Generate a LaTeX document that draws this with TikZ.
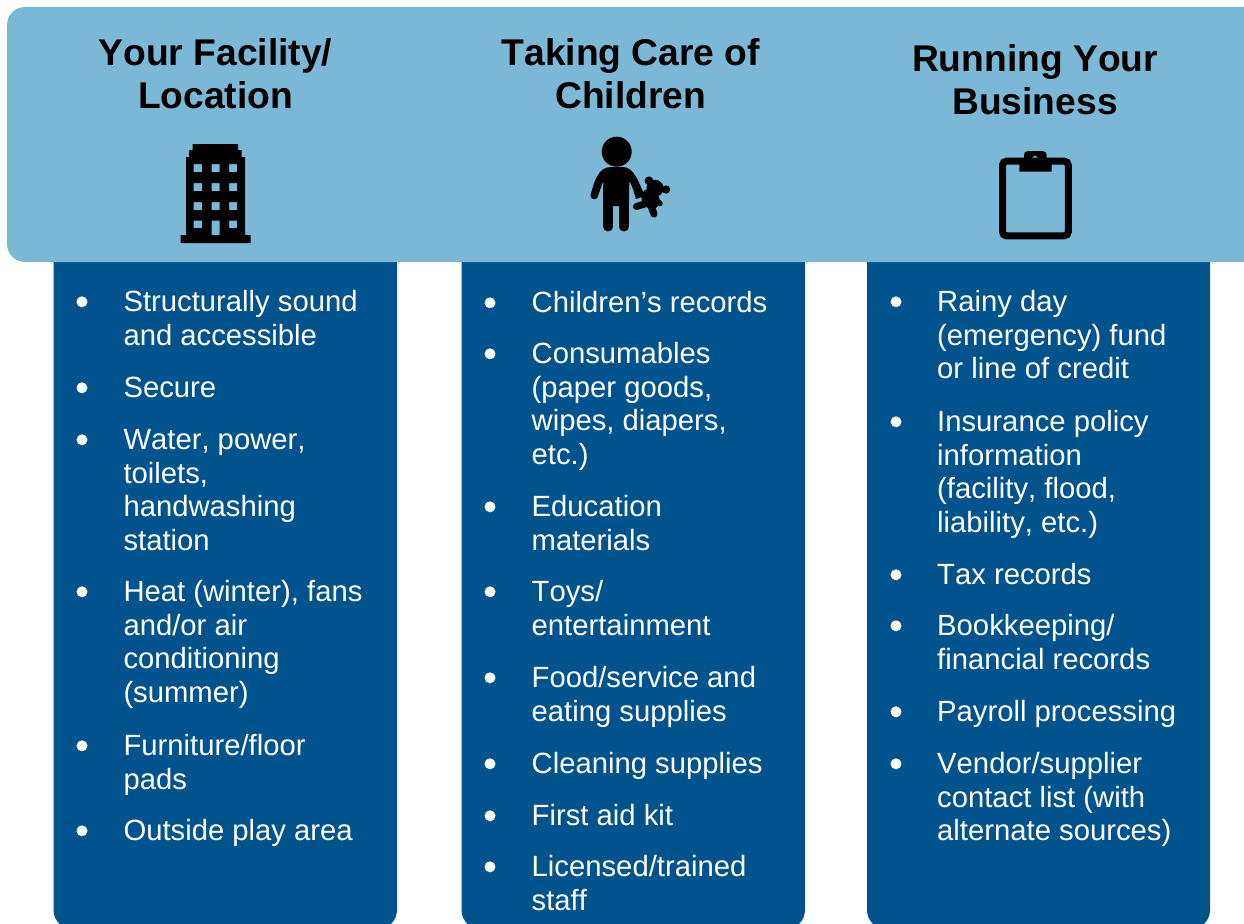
\documentclass[tikz,border=0pt]{standalone}
\usepackage{fontspec}
\setmainfont[Kerning=Off,Ligatures={NoCommon}]{Liberation Sans}
\definecolor{bandblue}{HTML}{7AB8D6}
\definecolor{deepblue}{HTML}{00538C}
\tikzset{
  x=1pt,y=-1pt,
  column/.style={fill=deepblue,draw=none,rounded corners=19pt},
  itemtext/.style={anchor=north west,inner sep=0pt,align=left,text=white,font=\fontsize{29.25}{33.8}\selectfont},
  dot/.style={circle,fill=white,inner sep=0pt,minimum size=11pt},
  head/.style={anchor=north,inner sep=0pt,align=center,text=black,font=\fontsize{37.2}{43}\selectfont\bfseries},
  limb/.style={black,line cap=round},
}
\newcommand{\bl}[5]{% name, dot x, text x, baseline y, text
  \node[dot] (#1d) at (#2,#4-9.2) {};
  \node[itemtext] (#1) at (#3,#4-22) {\rule{0pt}{22pt}#5};
}
\begin{document}
\begin{tikzpicture}
\useasboundingbox (0,0) rectangle (1244,923);
\clip (0,0) rectangle (1244,923);
\fill[white] (0,0) rectangle (1244,923);
% columns
\fill[column] (53.5,200) rectangle (397,929);
\fill[column] (461.5,200) rectangle (805,929);
\fill[column] (867,200) rectangle (1210,929);
% band
\fill[bandblue,rounded corners=18pt] (7,7) rectangle (1290,262);
% headers
\node[head] (h1) at (215.5,37.5) {\rule{0pt}{28pt}Your Facility/\\Location};
\node[head] (h2) at (630.8,37.5) {\rule{0pt}{28pt}Taking Care of\\Children};
\node[head] (h3) at (1035,43) {\rule{0pt}{28pt}Running Your\\Business};
% building icon
\begin{scope}[even odd rule]
\fill[black] (180.5,243) -- (180.5,235) -- (186,235) -- (186,157) -- (189,157) -- (189,150) -- (192.5,150) -- (192.5,144) -- (238,144) -- (238,150) -- (241.5,150) -- (241.5,157) -- (245,157) -- (245,235) -- (250.5,235) -- (250.5,243) -- cycle
  (193.5,164) rectangle (202,172) (211.5,164) rectangle (219.5,172) (229,164) rectangle (237,172)
  (193.5,183) rectangle (202,191) (211.5,183) rectangle (219.5,191) (229,183) rectangle (237,191)
  (193.5,202) rectangle (202,210) (211.5,202) rectangle (219.5,210) (229,202) rectangle (237,210)
  (193.5,220.5) rectangle (202,228) (229,220.5) rectangle (237,228)
  (211.5,220.5) rectangle (219.5,235);
\end{scope}
% child icon
\fill[black] (616.7,151.7) circle (15);
\fill[black] (590.5,195.5) .. controls (594,182) and (598,167) .. (611,167) -- (623,167) .. controls (634,167) and (639,183) .. (645,196) -- (636,199) .. controls (634,192) and (632,185) .. (629.3,181) -- (629,206) -- (603,206) -- (603.3,181) .. controls (601,187) and (599,193) .. (597.5,197.5) .. controls (596,201) and (590,199) .. (590.5,195.5) -- cycle;
\draw[limb,line width=10pt] (608.3,202) -- (608.3,226.5);
\draw[limb,line width=10pt] (624,202) -- (624,226.5);
% teddy
\fill[black,rotate around={-60:(650.5,199)}] (650.5,199) ellipse (10.5 and 8.5);
\fill[black] (655,188.3) circle (8.5);
\fill[black] (649,180.8) circle (4.4);
\fill[black] (666,189.5) circle (4.2);
\draw[limb,line width=7pt] (636.5,206.5) -- (648,203);
\draw[limb,line width=7pt] (650,203) -- (654,214);
\draw[limb,line width=5.5pt] (652,197) -- (660,203.5);
% clipboard icon
\draw[black,line width=7pt,rounded corners=4pt] (1002.5,161.2) rectangle (1068.3,235.8);
\begin{scope}[even odd rule]
\fill[black] (1019.3,171.7) -- (1019.3,158) -- (1024,158) -- (1024,155) .. controls (1024,152.5) and (1025.5,151) .. (1028,151) -- (1042.5,151) .. controls (1045,151) and (1046.7,152.5) .. (1046.7,155) -- (1046.7,158) -- (1051.7,158) -- (1051.7,171.7) -- cycle
  (1035,159) circle (3.3);
\end{scope}
% column 1
\bl{a1}{82}{123.3}{311}{Structurally sound\\and accessible}
\bl{a2}{82}{123.3}{397}{Secure}
\bl{a3}{82}{123.3}{449}{Water, power,\\toilets,\\handwashing\\station}
\bl{a4}{82}{123.3}{601}{Heat (winter), fans\\and/or air\\conditioning\\(summer)}
\bl{a5}{82}{123.3}{755}{Furniture/floor\\pads}
\bl{a6}{82}{123.3}{840}{Outside play area}
% column 2
\bl{b1}{490}{531.5}{312}{Children’s records}
\bl{b2}{490}{531.5}{363}{Consumables\\(paper goods,\\wipes, diapers,\\etc.)}
\bl{b3}{490}{531.5}{516}{Education\\materials}
\bl{b4}{490}{531.5}{601}{Toys/\\entertainment}
\bl{b5}{490}{531.5}{687}{Food/service and\\eating supplies}
\bl{b6}{490}{531.5}{773}{Cleaning supplies}
\bl{b7}{490}{531.5}{825}{First aid kit}
\bl{b8}{490}{531.5}{876}{Licensed/trained\\staff}
% column 3
\bl{c1}{896}{937}{311}{Rainy day\\(emergency) fund\\or line of credit}
\bl{c2}{896}{937}{431}{Insurance policy\\information\\(facility, flood,\\liability, etc.)}
\bl{c3}{896}{937}{584}{Tax records}
\bl{c4}{896}{937}{635}{Bookkeeping/\\financial records}
\bl{c5}{896}{937}{721}{Payroll processing}
\bl{c6}{896}{937}{773}{Vendor/supplier\\contact list (with\\alternate sources)}
\end{tikzpicture}
\end{document}
